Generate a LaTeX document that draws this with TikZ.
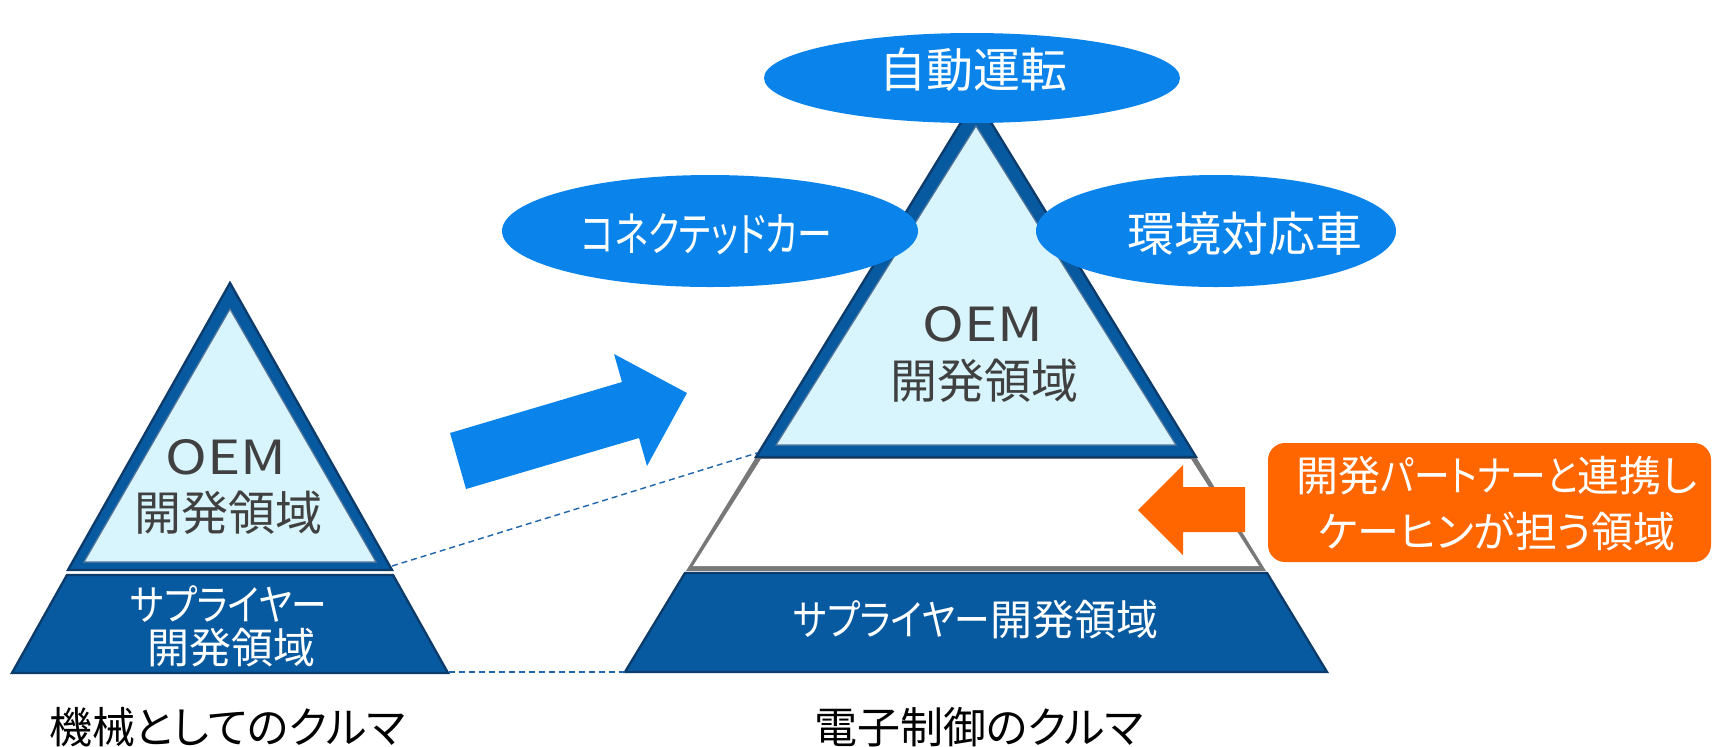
\documentclass[tikz,border=0pt]{standalone}
\usepackage{fontspec}
\setmainfont{Noto Sans CJK JP}[RawFeature=+palt]
\usepackage{graphicx}
\definecolor{ellblue}{RGB}{10,132,235}
\definecolor{band}{RGB}{8,90,160}
\definecolor{bandedge}{RGB}{12,60,108}
\definecolor{lightfill}{RGB}{216,244,252}
\definecolor{orng}{RGB}{255,102,0}
\definecolor{txtgray}{RGB}{64,64,64}
\definecolor{dashblue}{RGB}{30,100,170}
\definecolor{edgegray}{RGB}{120,120,120}
\newcommand{\narrow}[2]{\scalebox{#1}[1]{#2}}
\tikzset{
  bandshape/.style={fill=band, draw=bandedge, line width=1.2pt, line join=miter},
  lightshape/.style={fill=lightfill, draw=bandedge!70, line width=0.6pt},
  whiteshape/.style={fill=white},
  grayshape/.style={fill=edgegray},
  bigtxt/.style={font=\fontsize{23.5pt}{28pt}\selectfont, inner sep=0pt},
  midtxt/.style={font=\fontsize{21pt}{25pt}\selectfont, inner sep=0pt},
  captxt/.style={font=\fontsize{21.5pt}{25pt}\selectfont, inner sep=0pt},
  ellshape/.style={fill=ellblue},
  dashline/.style={draw=dashblue, line width=0.7pt, dash pattern=on 3pt off 2pt},
}
\begin{document}
\begin{tikzpicture}[x=0.5pt,y=-0.5pt]
\useasboundingbox (0,0) rectangle (1725,746);

% ---------- left pyramid ----------
\path[bandshape] (67,575) -- (393,575) -- (448,673) -- (12,673) -- cycle;
\path[bandshape] (230,283) -- (392,570) -- (68,570) -- cycle;
\path[lightshape] (230,309) -- (376,562) -- (84,562) -- cycle;

\node[bigtxt, text=txtgray] (loem) at (226,457) {\narrow{1.2}{OEM}};
\node[bigtxt, text=txtgray] (loemdev) at (228,513) {開発領域};
\node[midtxt, text=white] (lsup) at (229,604) {\narrow{0.85}{サプライヤー}};
\node[midtxt, text=white] (lsupdev) at (231,648) {開発領域};

% ---------- right pyramid ----------
\path[bandshape] (685,573) -- (1267,573) -- (1327,672) -- (625,672) -- cycle;
\path[grayshape] (756,457) -- (1196,457) -- (1266,571) -- (686,571) -- cycle;
\path[whiteshape] (761,459) -- (1191,459) -- (1259,566) -- (693,566) -- cycle;
\path[bandshape] (976,98) -- (1196,457) -- (756,457) -- cycle;
\path[lightshape] (976,126) -- (1176,445) -- (776,445) -- cycle;

\node[bigtxt, text=txtgray] (roem) at (983,324) {\narrow{1.2}{OEM}};
\node[bigtxt, text=txtgray] (roemdev) at (984,381) {開発領域};
\node[midtxt, text=white] (rsup) at (976,620) {\narrow{0.85}{サプライヤー}開発領域};

% ---------- ellipses ----------
\fill[ellshape] (972,78) ellipse [x radius=104pt, y radius=22.5pt];
\fill[ellshape] (710,231) ellipse [x radius=104pt, y radius=28pt];
\fill[ellshape] (1216,231) ellipse [x radius=90pt, y radius=28pt];
\node[bigtxt, text=white] (auto) at (973,70) {自動運転};
\node[bigtxt, text=white] (conn) at (707,234) {\narrow{0.74}{コネクテッドカー}};
\node[bigtxt, text=white] (eco) at (1245,234) {環境対応車};

% ---------- blue arrow ----------
\fill[ellblue] (450,433) -- (622,382) -- (614,354) -- (687,393) -- (647,466) -- (639,438) -- (466,489) -- cycle;

% ---------- dashed connectors ----------
\coordinate (l1) at (392,566);
\coordinate (r1) at (757,453);
\coordinate (l2) at (449,672);
\coordinate (r2) at (626,672);
\draw[dashline] (l1) -- (r1);
\draw[dashline] (l2) -- (r2);

% ---------- orange callout ----------
\fill[orng] (1138,510) -- (1183,465) -- (1183,487) -- (1245,487) -- (1245,532) -- (1183,532) -- (1183,555) -- cycle;
\node[fill=orng, rounded corners=8.5pt, minimum width=221.5pt, minimum height=59.5pt, inner sep=0pt] (obox) at (1489.5,502.5) {};
\node[midtxt, text=white] (o1) at (1497,476) {開発\narrow{0.85}{パートナーと}連携し};
\node[midtxt, text=white] (o2) at (1497,531) {ケーヒンが担う領域};

% ---------- captions ----------
\node[captxt, text=black] (capl) at (227,727) {機械としてのクルマ};
\node[captxt, text=black] (capr) at (979,727) {電子制御のクルマ};
\end{tikzpicture}
\end{document}
